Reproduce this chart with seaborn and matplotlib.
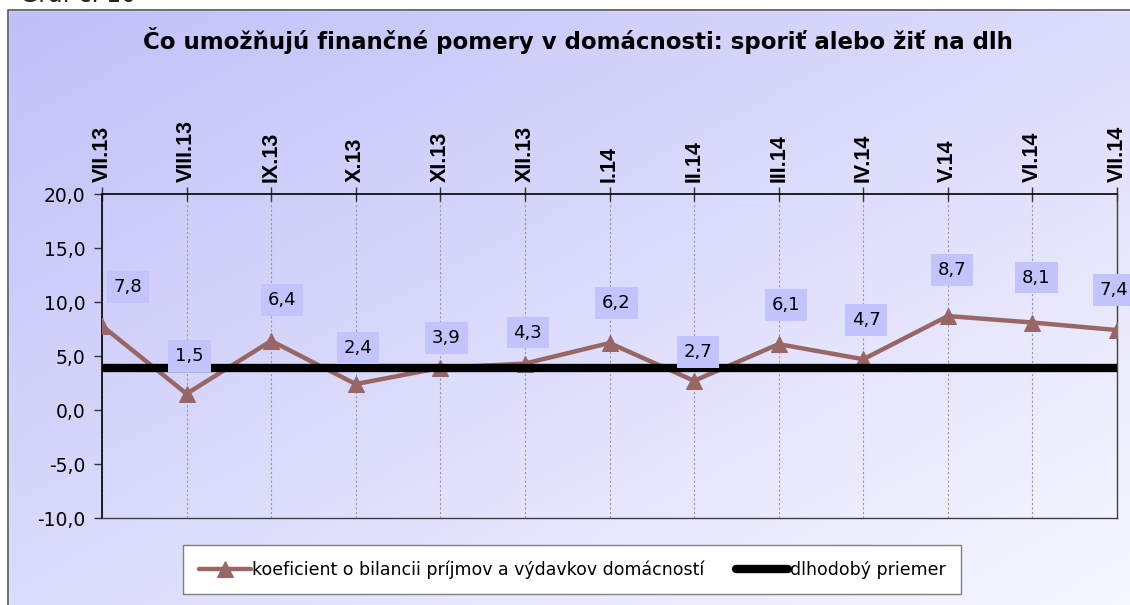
import numpy as np
import pandas as pd
import seaborn as sns
import matplotlib.pyplot as plt
from matplotlib.patches import Rectangle
from matplotlib.ticker import FuncFormatter

# data
months = ["VII.13", "VIII.13", "IX.13", "X.13", "XI.13", "XII.13", "I.14",
          "II.14", "III.14", "IV.14", "V.14", "VI.14", "VII.14"]
koeficient = [7.8, 1.5, 6.4, 2.4, 3.9, 4.3, 6.2, 2.7, 6.1, 4.7, 8.7, 8.1, 7.4]
dlhodoby_priemer = 3.9
series_names = ["koeficient o bilancii príjmov a výdavkov domácností",
                "dlhodobý priemer"]
y_ticks = [-10, -5, 0, 5, 10, 15, 20]
title = "Čo umožňujú finančné pomery v domácnosti: sporiť alebo žiť na dlh"
caption = "Graf č. 10"

# label nudges (pixels, relative to each point)
label_offsets = [(26, 39), (3, 38), (11, 41), (2, 36), (6, 30), (3, 31), (7, 40),
                 (4, 29), (7, 39), (3, 39), (4, 46), (4, 45), (-3, 40)]


def main():
    sns.set_theme(style="white")
    plt.rcParams['font.family'] = ['DejaVu Sans']
    plt.rcParams['text.color'] = 'black'
    plt.rcParams['xtick.color'] = 'black'
    plt.rcParams['ytick.color'] = 'black'
    plt.rcParams['axes.labelcolor'] = 'black'

    W, H = 1130, 605
    fig = plt.figure(figsize=(W / 100, H / 100), dpi=100)

    # gradient background with frame
    bg = fig.add_axes([0, 0, 1, 1], zorder=-10)
    xx, yy = np.meshgrid(np.linspace(0, 1, W), np.linspace(0, 1, H))
    t = (xx + yy) / 2
    c0 = np.array([0.75, 0.75, 0.975])
    c1 = np.array([0.97, 0.97, 1.0])
    img = c0 + t[..., None] * (c1 - c0)
    bg.imshow(img, extent=[0, W, H, 0], aspect='auto')
    bg.add_patch(Rectangle((0, 0), W, 10, color='white'))
    bg.add_patch(Rectangle((0, 0), 8, H, color='white'))
    bg.plot([8, 8, W], [H, 10, 10], color='#555555', lw=1.2)
    bg.text(20, 2, caption, fontsize=17, va='baseline', ha='left', color='#222222')
    bg.set_xlim(0, W)
    bg.set_ylim(H, 0)
    bg.axis('off')

    fig.text(578 / W, 1 - 41 / H, title, ha='center', va='center',
             fontsize=16.5, fontweight='bold', color='black')

    # main plot area
    ax = fig.add_axes([102 / W, 1 - 518 / H, (1117 - 102) / W, (518 - 194) / H])
    ax.patch.set_alpha(0)

    df = pd.DataFrame({
        'pos': range(len(months)),
        'koeficient': koeficient,
        'priemer': [dlhodoby_priemer] * len(months),
    })

    sns.lineplot(data=df, x='pos', y='koeficient', ax=ax, color='#996666',
                 lw=3.2, marker='^', markersize=11, markeredgecolor='#996666',
                 label=series_names[0], zorder=3)
    sns.lineplot(data=df, x='pos', y='priemer', ax=ax, color='black',
                 lw=6, label=series_names[1], zorder=4)

    # data labels
    for i, v in enumerate(koeficient):
        dx, dy = label_offsets[i]
        ax.annotate(f"{v:.1f}".replace('.', ','), (i, v), xytext=(dx, dy),
                    textcoords='offset pixels', ha='center', va='center',
                    fontsize=13, zorder=6, color='black',
                    bbox=dict(boxstyle='square,pad=0.38', fc='#c3c3fd', ec='none'))

    ax.set_xlim(0, len(months) - 1)
    ax.set_ylim(y_ticks[0], y_ticks[-1])
    ax.set_yticks(y_ticks)
    ax.yaxis.set_major_formatter(FuncFormatter(lambda v, p: f"{v:.1f}".replace('.', ',')))
    ax.xaxis.tick_top()
    ax.set_xticks(range(len(months)))
    ax.set_xticklabels(months, rotation=90, fontweight='bold', fontsize=15.5,
                       family=['Liberation Sans', 'DejaVu Sans'])
    ax.tick_params(axis='x', direction='inout', length=10, width=1,
                   color='#333333', labelcolor='black', pad=4, top=True, bottom=False)
    ax.tick_params(axis='y', direction='out', length=6, width=1,
                   color='#333333', labelcolor='black', labelsize=13.5, pad=6, left=True)
    ax.set_xlabel('')
    ax.set_ylabel('')
    ax.grid(axis='x', color='#999999', linestyle=(0, (2, 2)), lw=0.8)
    ax.grid(axis='y', visible=False)

    for side in ['top', 'left']:
        ax.spines[side].set_color('black')
        ax.spines[side].set_linewidth(1.2)
    for side in ['bottom', 'right']:
        ax.spines[side].set_color('#404040')
        ax.spines[side].set_linewidth(1.0)

    leg = ax.legend(loc='center', bbox_to_anchor=(572 / W, 1 - 569.5 / H),
                    bbox_transform=fig.transFigure, ncol=2, fontsize=12.5,
                    frameon=True, fancybox=False, edgecolor='#808080',
                    facecolor='white', framealpha=1, handlelength=3.0,
                    handletextpad=0.1, columnspacing=1.8, borderpad=0.9,
                    borderaxespad=0)
    for txt in leg.get_texts():
        txt.set_color('black')

    plt.savefig('out.png', dpi=100)


if __name__ == "__main__":
    main()
